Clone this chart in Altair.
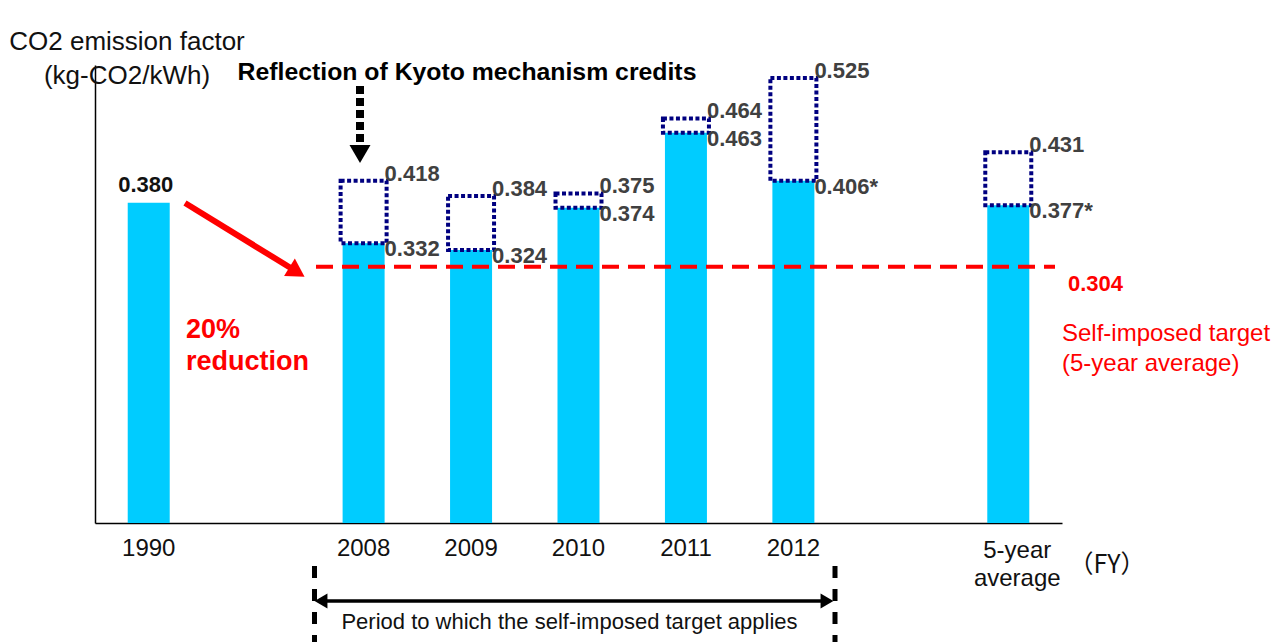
import altair as alt
import pandas as pd

# ---- data ----
slots = ["1990", "gap_a", "2008", "2009", "2010", "2011", "2012", "gap_b", "5-year average"]
years = ["1990", "2008", "2009", "2010", "2011", "2012", "5-year average"]
tick_labels = ["1990", "2008", "2009", "2010", "2011", "2012", "5-year\naverage"]
emission = [0.380, 0.332, 0.324, 0.374, 0.463, 0.406, 0.377]
emission_labels = ["0.380", "0.332", "0.324", "0.374", "0.463", "0.406*", "0.377*"]
before_credit_labels = ["", "0.418", "0.384", "0.375", "0.464", "0.525", "0.431"]
box_top = [None, 0.406, 0.388, 0.391, 0.480, 0.528, 0.440]  # dotted boxes as drawn
target = 0.304

y_title = "CO2 emission factor\n(kg-CO2/kWh)"
kyoto_title = "Reflection of Kyoto mechanism credits"
reduction_text = "20%\nreduction"
target_text = "Self-imposed target\n(5-year average)"
period_text = "Period to which the self-imposed target applies"
fy_text = "（FY）"

df = pd.DataFrame({
    "year": years, "tick": tick_labels, "value": emission,
    "label": emission_labels, "top_label": before_credit_labels, "box_top": box_top,
})

FONT = "Liberation Sans"
CYAN = "#00CCFF"
NAVY = "#000080"
RED = "#FF0000"
GRAY = "#404040"

x_scale = alt.Scale(domain=slots, paddingInner=0.609, paddingOuter=0.3045)
x_axis = alt.Axis(title=None, labels=False, ticks=False, grid=False,
                  domainColor="#000000", domainWidth=1.5)
y_scale = alt.Scale(domain=[0, 0.5434], nice=False)
y_axis = alt.Axis(title=None, labels=False, ticks=False, grid=False,
                  domainColor="#000000", domainWidth=1.5)

X = alt.X("year:N", scale=x_scale, axis=x_axis)

base = alt.Chart(df)

bars = base.mark_bar(size=42, color=CYAN).encode(
    x=X, y=alt.Y("value:Q", scale=y_scale, axis=y_axis))

boxes = base.transform_filter("isValid(datum.box_top)").mark_bar(
    size=46, fillOpacity=0, stroke=NAVY, strokeWidth=4, strokeDash=[4, 2.5]
).encode(x=X, y=alt.Y("box_top:Q", scale=y_scale, axis=y_axis), y2="value:Q")

top_labels = base.transform_filter("isValid(datum.box_top)").mark_text(
    align="left", baseline="middle", dx=21, dy=-7, fontSize=22,
    fontWeight="bold", color=GRAY, font=FONT
).encode(x=X, y=alt.Y("box_top:Q", scale=y_scale, axis=y_axis), text="top_label:N")

bottom_labels = base.transform_filter("datum.year != '1990'").mark_text(
    align="left", baseline="middle", dx=21, dy=6, fontSize=22,
    fontWeight="bold", color=GRAY, font=FONT
).encode(x=X, y=alt.Y("value:Q", scale=y_scale, axis=y_axis), text="label:N")

base_label = base.transform_filter("datum.year == '1990'").mark_text(
    align="center", baseline="middle", dx=-3, dy=-18, fontSize=22,
    fontWeight="bold", color="#111111", font=FONT
).encode(x=X, y=alt.Y("value:Q", scale=y_scale, axis=y_axis), text="label:N")

ticks = base.transform_filter("datum.year != '5-year average'").mark_text(
    align="center", baseline="top", lineBreak="\n", fontSize=24, lineHeight=29,
    color="#111111", font=FONT
).encode(x=X, y=alt.value(471.6), text="tick:N")

ticks_avg = base.transform_filter("datum.year == '5-year average'").mark_text(
    align="center", baseline="top", lineBreak="\n", fontSize=24, lineHeight=28,
    dx=9, color="#111111", font=FONT
).encode(x=X, y=alt.value(474), text="tick:N")

tdf = pd.DataFrame({"target": [target]})
target_line = alt.Chart(tdf).mark_rule(
    color=RED, strokeWidth=4, strokeDash=[17, 9]
).encode(x=alt.value(221), x2=alt.value(960),
         y=alt.Y("target:Q", scale=y_scale, axis=y_axis))
target_value = alt.Chart(tdf).mark_text(
    align="left", baseline="middle", dy=17, fontSize=22, fontWeight="bold",
    color=RED, font=FONT
).encode(x=alt.value(973), y=alt.Y("target:Q", scale=y_scale, axis=y_axis),
         text=alt.Text("target:Q", format=".3f"))

ann = pd.DataFrame({"y_title": [y_title], "kyoto": [kyoto_title],
                    "reduction": [reduction_text], "target_text": [target_text],
                    "period": [period_text], "fy": [fy_text]})
A = alt.Chart(ann)

ytitle = A.mark_text(align="center", baseline="middle", lineBreak="\n",
                     fontSize=26, lineHeight=34, color="#111111", font=FONT
                     ).encode(x=alt.value(32), y=alt.value(-23), text="y_title:N")
kyoto = A.mark_text(align="center", baseline="middle", fontSize=24.8,
                    fontWeight="bold", color="#000000", font=FONT
                    ).encode(x=alt.value(372), y=alt.value(8), text="kyoto:N")
kyoto_shaft = A.mark_rule(color="#000000", strokeWidth=8, strokeDash=[8, 4]
                          ).encode(x=alt.value(265), y=alt.value(21), y2=alt.value(82))
kyoto_head = A.mark_point(shape="triangle-down", size=441, filled=True,
                          color="#000000", opacity=1
                          ).encode(x=alt.value(265), y=alt.value(89))
reduction = A.mark_text(align="left", baseline="middle", lineBreak="\n",
                        fontSize=27, lineHeight=32, fontWeight="bold", color=RED, font=FONT
                        ).encode(x=alt.value(91), y=alt.value(265), text="reduction:N")
red_shaft = A.mark_rule(color=RED, strokeWidth=6).encode(
    x=alt.value(90), y=alt.value(138), x2=alt.value(199), y2=alt.value(205))
red_head = A.mark_point(shape="triangle-right", angle=31.7, size=420, filled=True,
                        color=RED, opacity=1).encode(x=alt.value(202), y=alt.value(207))
target_lbl = A.mark_text(align="left", baseline="middle", lineBreak="\n",
                         fontSize=24, lineHeight=30, color=RED, font=FONT
                         ).encode(x=alt.value(967), y=alt.value(269), text="target_text:N")
fy = A.mark_text(align="center", baseline="middle", fontSize=25, color="#111111",
                 font="Noto Sans CJK JP").encode(x=alt.value(1012), y=alt.value(500), text="fy:N")
vline_l = A.mark_rule(color="#000000", strokeWidth=5, strokeDash=[12, 11]).encode(
    x=alt.value(219.5), y=alt.value(501), y2=alt.value(580))
vline_r = A.mark_rule(color="#000000", strokeWidth=5, strokeDash=[12, 11]).encode(
    x=alt.value(740), y=alt.value(501), y2=alt.value(580))
period_line = A.mark_rule(color="#000000", strokeWidth=3.5).encode(
    x=alt.value(224), x2=alt.value(733), y=alt.value(536))
period_head_l = A.mark_point(shape="triangle-left", size=220, filled=True,
                             color="#000000", opacity=1).encode(x=alt.value(226), y=alt.value(536))
period_head_r = A.mark_point(shape="triangle-right", size=220, filled=True,
                             color="#000000", opacity=1).encode(x=alt.value(732), y=alt.value(536))
period = A.mark_text(align="center", baseline="middle", fontSize=22, color="#111111",
                     font=FONT).encode(x=alt.value(474.5), y=alt.value(557), text="period:N")

chart = alt.layer(
    bars, boxes, target_line, top_labels, bottom_labels, base_label, ticks, ticks_avg,
    target_value, ytitle, kyoto, kyoto_shaft, kyoto_head, reduction,
    red_shaft, red_head, target_lbl, fy, vline_l, vline_r, period_line,
    period_head_l, period_head_r, period,
).properties(
    width=967, height=458,
    padding={"left": 95, "top": 65, "right": 219, "bottom": 119},
    autosize="none",
).configure(font=FONT).configure_view(stroke="transparent")

chart.save("out.html", embed_options={"renderer": "svg", "actions": False})
